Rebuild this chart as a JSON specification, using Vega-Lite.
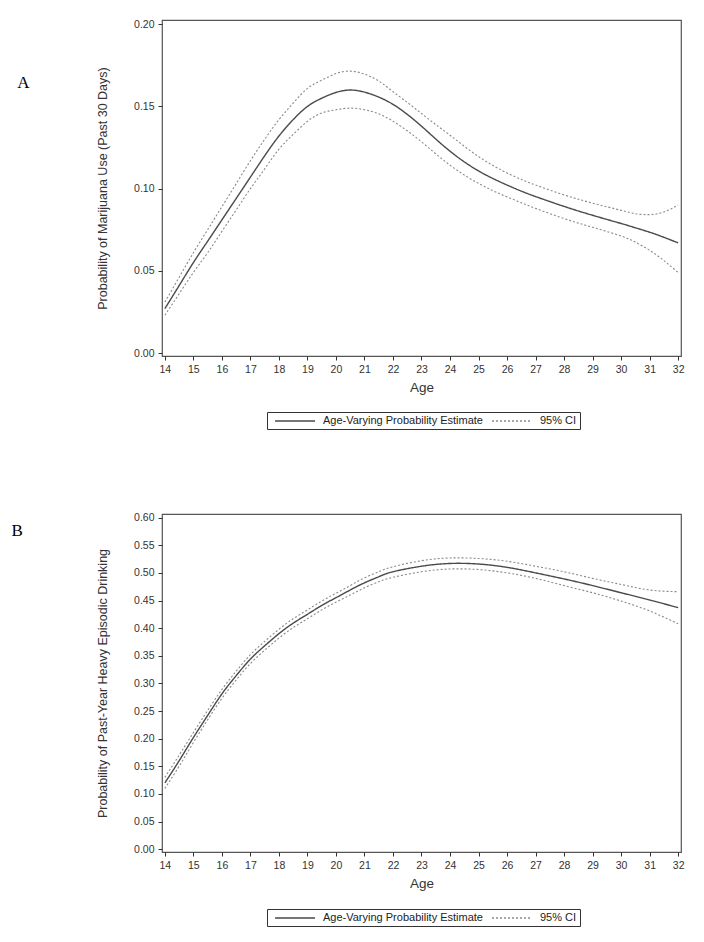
{
  "$schema": "https://vega.github.io/schema/vega-lite/v6.json",
  "background": "white",
  "padding": {"left": 10, "top": 18, "right": 10, "bottom": 5},
  "spacing": 80,
  "config": {
    "view": {"stroke": "#555", "strokeWidth": 1.2},
    "font": "Liberation Sans",
    "axis": {"domain": false, "grid": false, "tickColor": "#333", "tickSize": 4, "labelFont": "Liberation Sans", "labelFontSize": 10.5, "labelColor": "#333", "labelOverlap": false, "titleFont": "Liberation Sans", "titleFontWeight": "normal", "titleColor": "#333"},
    "legend": {"orient": "none", "direction": "horizontal", "symbolType": "M-4,0H4", "symbolSize": 100, "symbolStrokeWidth": 1.3, "labelFont": "Liberation Sans", "labelFontSize": 11, "labelColor": "#222", "strokeColor": "#333", "padding": 3, "columnPadding": 4, "labelOffset": 22, "symbolOffset": 19}
  },
  "datasets": {
    "A": [
      {"age": 14, "est": 0.027, "lo": 0.023, "hi": 0.031},
      {"age": 14.5, "est": 0.041, "lo": 0.036, "hi": 0.046},
      {"age": 15, "est": 0.055, "lo": 0.049, "hi": 0.061},
      {"age": 15.5, "est": 0.068, "lo": 0.061, "hi": 0.075},
      {"age": 16, "est": 0.081, "lo": 0.074, "hi": 0.089},
      {"age": 16.5, "est": 0.094, "lo": 0.087, "hi": 0.103},
      {"age": 17, "est": 0.107, "lo": 0.100, "hi": 0.117},
      {"age": 17.5, "est": 0.120, "lo": 0.112, "hi": 0.130},
      {"age": 18, "est": 0.132, "lo": 0.124, "hi": 0.142},
      {"age": 18.5, "est": 0.142, "lo": 0.133, "hi": 0.152},
      {"age": 19, "est": 0.150, "lo": 0.141, "hi": 0.161},
      {"age": 19.5, "est": 0.155, "lo": 0.146, "hi": 0.166},
      {"age": 20, "est": 0.1585, "lo": 0.148, "hi": 0.170},
      {"age": 20.5, "est": 0.160, "lo": 0.149, "hi": 0.1715},
      {"age": 21, "est": 0.1587, "lo": 0.148, "hi": 0.1697},
      {"age": 21.5, "est": 0.1557, "lo": 0.1455, "hi": 0.1655},
      {"age": 22, "est": 0.1513, "lo": 0.141, "hi": 0.159},
      {"age": 22.5, "est": 0.1452, "lo": 0.1352, "hi": 0.1525},
      {"age": 23, "est": 0.138, "lo": 0.1285, "hi": 0.1457},
      {"age": 23.5, "est": 0.1302, "lo": 0.1212, "hi": 0.139},
      {"age": 24, "est": 0.1228, "lo": 0.1143, "hi": 0.1325},
      {"age": 24.5, "est": 0.1163, "lo": 0.1083, "hi": 0.1258},
      {"age": 25, "est": 0.1108, "lo": 0.1032, "hi": 0.1195},
      {"age": 25.5, "est": 0.1062, "lo": 0.0988, "hi": 0.1142},
      {"age": 26, "est": 0.1022, "lo": 0.095, "hi": 0.1095},
      {"age": 26.5, "est": 0.0985, "lo": 0.0914, "hi": 0.1056},
      {"age": 27, "est": 0.0952, "lo": 0.088, "hi": 0.1022},
      {"age": 28, "est": 0.0892, "lo": 0.0818, "hi": 0.0962},
      {"age": 29, "est": 0.0838, "lo": 0.0765, "hi": 0.0912},
      {"age": 30, "est": 0.0788, "lo": 0.0712, "hi": 0.0868},
      {"age": 30.5, "est": 0.0762, "lo": 0.0675, "hi": 0.0848},
      {"age": 31, "est": 0.0735, "lo": 0.0625, "hi": 0.0842},
      {"age": 31.5, "est": 0.0704, "lo": 0.0562, "hi": 0.0858},
      {"age": 32, "est": 0.067, "lo": 0.049, "hi": 0.090}
    ],
    "B": [
      {"age": 14, "est": 0.120, "lo": 0.110, "hi": 0.130},
      {"age": 14.5, "est": 0.160, "lo": 0.150, "hi": 0.170},
      {"age": 15, "est": 0.202, "lo": 0.193, "hi": 0.211},
      {"age": 15.5, "est": 0.242, "lo": 0.234, "hi": 0.251},
      {"age": 16, "est": 0.281, "lo": 0.273, "hi": 0.289},
      {"age": 16.5, "est": 0.314, "lo": 0.306, "hi": 0.322},
      {"age": 17, "est": 0.344, "lo": 0.336, "hi": 0.352},
      {"age": 17.5, "est": 0.368, "lo": 0.360, "hi": 0.376},
      {"age": 18, "est": 0.390, "lo": 0.382, "hi": 0.398},
      {"age": 18.5, "est": 0.409, "lo": 0.401, "hi": 0.417},
      {"age": 19, "est": 0.425, "lo": 0.417, "hi": 0.433},
      {"age": 19.5, "est": 0.441, "lo": 0.433, "hi": 0.449},
      {"age": 20, "est": 0.455, "lo": 0.447, "hi": 0.463},
      {"age": 20.5, "est": 0.469, "lo": 0.460, "hi": 0.477},
      {"age": 21, "est": 0.482, "lo": 0.473, "hi": 0.491},
      {"age": 21.5, "est": 0.493, "lo": 0.484, "hi": 0.502},
      {"age": 22, "est": 0.502, "lo": 0.492, "hi": 0.511},
      {"age": 23, "est": 0.512, "lo": 0.502, "hi": 0.522},
      {"age": 24, "est": 0.517, "lo": 0.507, "hi": 0.527},
      {"age": 25, "est": 0.516, "lo": 0.506, "hi": 0.526},
      {"age": 26, "est": 0.510, "lo": 0.500, "hi": 0.521},
      {"age": 27, "est": 0.500, "lo": 0.490, "hi": 0.512},
      {"age": 28, "est": 0.489, "lo": 0.477, "hi": 0.502},
      {"age": 29, "est": 0.477, "lo": 0.464, "hi": 0.490},
      {"age": 30, "est": 0.464, "lo": 0.449, "hi": 0.479},
      {"age": 31, "est": 0.451, "lo": 0.431, "hi": 0.469},
      {"age": 32, "est": 0.437, "lo": 0.408, "hi": 0.466}
    ]
  },
  "vconcat": [
    {
      "title": {"text": "A", "orient": "left", "anchor": "end", "frame": "group", "angle": 0, "align": "center", "baseline": "middle", "offset": 61, "dy": 63, "font": "Liberation Serif", "fontSize": 17, "fontWeight": "normal", "color": "#000"},
      "width": 519,
      "height": 336,
      "data": {"name": "A"},
      "layer": [
        {
          "mark": {"type": "line", "strokeWidth": 1.4, "interpolate": "natural"},
          "encoding": {
            "x": {"field": "age", "type": "quantitative", "scale": {"domain": [13.9, 32.1], "nice": false, "zero": false}, "axis": {"values": [14,15,16,17,18,19,20,21,22,23,24,25,26,27,28,29,30,31,32], "tickCount": 19, "labelOverlap": false, "labelSeparation": 0, "title": "Age", "titleFontSize": 13.5, "labelPadding": 4, "titlePadding": 6, "labelFlush": false}},
            "y": {"field": "est", "type": "quantitative", "scale": {"domain": [-0.0018, 0.2026], "nice": false, "zero": false}, "axis": {"values": [0, 0.05, 0.1, 0.15, 0.2], "tickCount": 5, "labelOverlap": false, "format": ".2f", "title": "Probability of Marijuana Use (Past 30 Days)", "titleFontSize": 12.5, "labelPadding": 4, "titlePadding": 24}},
            "color": {"datum": "Age-Varying Probability Estimate", "type": "nominal", "scale": {"domain": ["Age-Varying Probability Estimate", "95% CI"], "range": ["#4a4a4a", "#8a8a8a"]}, "legend": {"title": null, "legendX": 105, "legendY": 392}},
            "strokeDash": {"datum": "Age-Varying Probability Estimate", "type": "nominal", "scale": {"domain": ["Age-Varying Probability Estimate", "95% CI"], "range": [[1, 0], [2, 2]]}, "legend": {"title": null, "legendX": 105, "legendY": 392}}
          }
        },
        {
          "transform": [{"fold": ["lo", "hi"], "as": ["bound", "value"]}],
          "mark": {"type": "line", "strokeWidth": 1.1, "interpolate": "natural"},
          "encoding": {
            "x": {"field": "age", "type": "quantitative", "axis": {"values": [14,15,16,17,18,19,20,21,22,23,24,25,26,27,28,29,30,31,32], "tickCount": 19, "labelOverlap": false}},
            "y": {"field": "value", "type": "quantitative", "title": "Probability of Marijuana Use (Past 30 Days)", "axis": {"values": [0, 0.05, 0.1, 0.15, 0.2], "tickCount": 5, "labelOverlap": false, "format": ".2f"}},
            "detail": {"field": "bound", "type": "nominal"},
            "color": {"datum": "95% CI", "type": "nominal"},
            "strokeDash": {"datum": "95% CI", "type": "nominal"}
          }
        }
      ]
    },
    {
      "title": {"text": "B", "orient": "left", "anchor": "end", "frame": "group", "angle": 0, "align": "center", "baseline": "middle", "offset": 68, "dy": 17, "font": "Liberation Serif", "fontSize": 17, "fontWeight": "normal", "color": "#000"},
      "width": 519,
      "height": 338,
      "data": {"name": "B"},
      "layer": [
        {
          "mark": {"type": "line", "strokeWidth": 1.4, "interpolate": "natural"},
          "encoding": {
            "x": {"field": "age", "type": "quantitative", "scale": {"domain": [13.9, 32.1], "nice": false, "zero": false}, "axis": {"values": [14,15,16,17,18,19,20,21,22,23,24,25,26,27,28,29,30,31,32], "tickCount": 19, "labelOverlap": false, "labelSeparation": 0, "title": "Age", "titleFontSize": 13.5, "labelPadding": 4, "titlePadding": 6, "labelFlush": false}},
            "y": {"field": "est", "type": "quantitative", "scale": {"domain": [-0.005, 0.6065], "nice": false, "zero": false}, "axis": {"values": [0, 0.05, 0.1, 0.15, 0.2, 0.25, 0.3, 0.35, 0.4, 0.45, 0.5, 0.55, 0.6], "tickCount": 13, "labelOverlap": false, "labelSeparation": 0, "format": ".2f", "title": "Probability of Past-Year Heavy Episodic Drinking", "titleFontSize": 12.5, "labelPadding": 4, "titlePadding": 24}},
            "color": {"datum": "Age-Varying Probability Estimate", "type": "nominal", "scale": {"domain": ["Age-Varying Probability Estimate", "95% CI"], "range": ["#4a4a4a", "#8a8a8a"]}, "legend": {"title": null, "legendX": 105, "legendY": 395}},
            "strokeDash": {"datum": "Age-Varying Probability Estimate", "type": "nominal", "scale": {"domain": ["Age-Varying Probability Estimate", "95% CI"], "range": [[1, 0], [2, 2]]}, "legend": {"title": null, "legendX": 105, "legendY": 395}}
          }
        },
        {
          "transform": [{"fold": ["lo", "hi"], "as": ["bound", "value"]}],
          "mark": {"type": "line", "strokeWidth": 1.1, "interpolate": "natural"},
          "encoding": {
            "x": {"field": "age", "type": "quantitative", "axis": {"values": [14,15,16,17,18,19,20,21,22,23,24,25,26,27,28,29,30,31,32], "tickCount": 19, "labelOverlap": false}},
            "y": {"field": "value", "type": "quantitative", "title": "Probability of Past-Year Heavy Episodic Drinking", "axis": {"values": [0, 0.05, 0.1, 0.15, 0.2, 0.25, 0.3, 0.35, 0.4, 0.45, 0.5, 0.55, 0.6], "tickCount": 13, "labelOverlap": false, "format": ".2f"}},
            "detail": {"field": "bound", "type": "nominal"},
            "color": {"datum": "95% CI", "type": "nominal"},
            "strokeDash": {"datum": "95% CI", "type": "nominal"}
          }
        }
      ]
    }
  ],
  "resolve": {"scale": {"x": "independent", "y": "independent", "color": "independent", "strokeDash": "independent"}}
}
